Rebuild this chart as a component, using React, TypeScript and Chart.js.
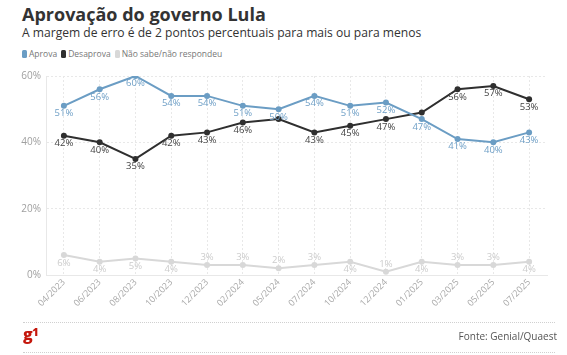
import React, { useEffect, useRef } from "react";
import { Chart, registerables } from "chart.js";

Chart.register(...registerables);

const categories = ["04/2023", "06/2023", "08/2023", "10/2023", "12/2023", "02/2024", "05/2024", "07/2024", "10/2024", "12/2024", "01/2025", "03/2025", "05/2025", "07/2025"];
const aprova = [51, 56, 60, 54, 54, 51, 50, 54, 51, 52, 47, 41, 40, 43];
const desaprova = [42, 40, 35, 42, 43, 46, 47, 43, 45, 47, 49, 56, 57, 53];
const naoSabe = [6, 4, 5, 4, 3, 3, 2, 3, 4, 1, 4, 3, 3, 4];
const yTicks = [0, 20, 40, 60];

// label placement (style only)
const aprovaLabelPos = ["b", "b", "b", "b", "b", "b", "b", "b", "b", "b", "b", "b", "b", "b"];
const desaprovaLabelPos = ["b", "b", "b", "b", "b", "b", "", "b", "b", "b", "", "b", "b", "b"];
const naoSabeLabelPos = ["b", "b", "b", "b", "a", "a", "a", "a", "b", "a", "b", "a", "a", "b"];

const FONT = "'Open Sans', 'DejaVu Sans', sans-serif";

const labelsPlugin = {
  id: "pointLabels",
  afterDatasetsDraw(chart: any) {
    const ctx = chart.ctx;
    chart.data.datasets.forEach((ds: any, i: number) => {
      const meta = chart.getDatasetMeta(i);
      ctx.save();
      ctx.font = `9.5px ${FONT}`;
      ctx.fillStyle = ds.labelColor;
      ctx.textAlign = "center";
      meta.data.forEach((pt: any, j: number) => {
        const pos = ds.labelPos[j];
        if (!pos) return;
        const text = ds.data[j] + "%";
        if (pos === "b") {
          ctx.textBaseline = "top";
          ctx.fillText(text, pt.x, pt.y + 3);
        } else {
          ctx.textBaseline = "bottom";
          ctx.fillText(text, pt.x, pt.y - 3);
        }
      });
      ctx.restore();
    });
  },
};

export default function App() {
  const ref = useRef<HTMLCanvasElement>(null);
  useEffect(() => {
    if (!ref.current) return;
    const chart = new Chart(ref.current, {
      type: "line",
      data: {
        labels: categories,
        datasets: [
          {
            label: "Aprova",
            data: aprova,
            borderColor: "#6b9dc4",
            backgroundColor: "#6b9dc4",
            borderWidth: 2,
            pointRadius: 3,
            pointBorderWidth: 0,
            tension: 0,
            labelColor: "#6e9fc6",
            labelPos: aprovaLabelPos,
          } as any,
          {
            label: "Desaprova",
            data: desaprova,
            borderColor: "#2f2f2f",
            backgroundColor: "#2f2f2f",
            borderWidth: 2,
            pointRadius: 3,
            pointBorderWidth: 0,
            tension: 0,
            labelColor: "#444444",
            labelPos: desaprovaLabelPos,
          } as any,
          {
            label: "Não sabe/não respondeu",
            data: naoSabe,
            borderColor: "#d8d8d8",
            backgroundColor: "#d8d8d8",
            borderWidth: 2,
            pointRadius: 3,
            pointBorderWidth: 0,
            tension: 0,
            labelColor: "#cccccc",
            labelPos: naoSabeLabelPos,
          } as any,
        ],
      },
      options: {
        animation: false,
        responsive: true,
        maintainAspectRatio: false,
        layout: { padding: { top: 10, right: 20, left: 0, bottom: 0 } },
        plugins: { legend: { display: false }, tooltip: { enabled: false } },
        scales: {
          x: {
            offset: true,
            grid: { color: "#e8e8e8", drawTicks: false, offset: false } as any,
            border: { display: true, color: "#e8e8e8", dash: [2, 2] } as any,
            ticks: {
              autoSkip: false,
              maxRotation: 45,
              minRotation: 45,
              padding: 2,
              color: "#a8a8a8",
              font: { family: FONT, size: 9 },
            },
            afterFit: (s: any) => {
              s.height = 50;
            },
          },
          y: {
            min: 0,
            max: 60,
            afterBuildTicks: (s: any) => {
              s.ticks = yTicks.map((v) => ({ value: v }));
            },
            grid: { color: "#e8e8e8", drawTicks: false } as any,
            border: { display: true, color: "#e8e8e8", dash: [2, 2] } as any,
            ticks: {
              padding: 5,
              color: "#a0a0a0",
              font: { family: FONT, size: 10 },
              callback: (v: any) => v + "%",
            },
            afterFit: (s: any) => {
              s.width = 46;
            },
          },
        },
      },
      plugins: [labelsPlugin],
    });
    return () => chart.destroy();
  }, []);

  const legendItems = [
    { label: "Aprova", color: "#6b9dc4" },
    { label: "Desaprova", color: "#2f2f2f" },
    { label: "Não sabe/não respondeu", color: "#d8d8d8" },
  ];

  return (
    <div style={{ position: "fixed", left: 0, top: 0, width: 567, height: 355, background: "#fff", fontFamily: FONT, overflow: "hidden" }}>
      <div style={{ position: "absolute", left: 22, top: 2, fontSize: 18, fontWeight: 700, color: "#333", whiteSpace: "nowrap" }}>
        Aprovação do governo Lula
      </div>
      <div style={{ position: "absolute", left: 22, top: 24, fontSize: 12.1, color: "#333", whiteSpace: "nowrap" }}>
        A margem de erro é de 2 pontos percentuais para mais ou para menos
      </div>
      <div style={{ position: "absolute", left: 22, top: 48, display: "flex", alignItems: "center", fontSize: 8.5, color: "#777", whiteSpace: "nowrap" }}>
        {legendItems.map((it) => (
          <div key={it.label} style={{ display: "flex", alignItems: "center", marginRight: 4 }}>
            <span style={{ display: "inline-block", width: 5, height: 8, borderRadius: 1.5, background: it.color, marginRight: 2 }} />
            <span>{it.label}</span>
          </div>
        ))}
      </div>
      <div style={{ position: "absolute", left: 0, top: 65, width: 567, height: 260 }}>
        <canvas ref={ref} />
      </div>
      <div style={{ position: "absolute", left: 23, top: 322, width: 532, borderTop: "1px dotted #d0d0d0" }} />
      <div style={{ position: "absolute", left: 23, top: 325, fontSize: 16, lineHeight: "18px", fontWeight: 800, color: "#c4170c", letterSpacing: -0.5 }}>
        g<span style={{ fontSize: 11, position: "relative", top: -4 }}>1</span>
      </div>
      <div style={{ position: "absolute", right: 10, top: 329, fontSize: 10, color: "#555", whiteSpace: "nowrap" }}>
        Fonte: Genial/Quaest
      </div>
      <div style={{ position: "absolute", left: 23, top: 352, width: 532, borderTop: "1px dotted #d0d0d0" }} />
    </div>
  );
}
